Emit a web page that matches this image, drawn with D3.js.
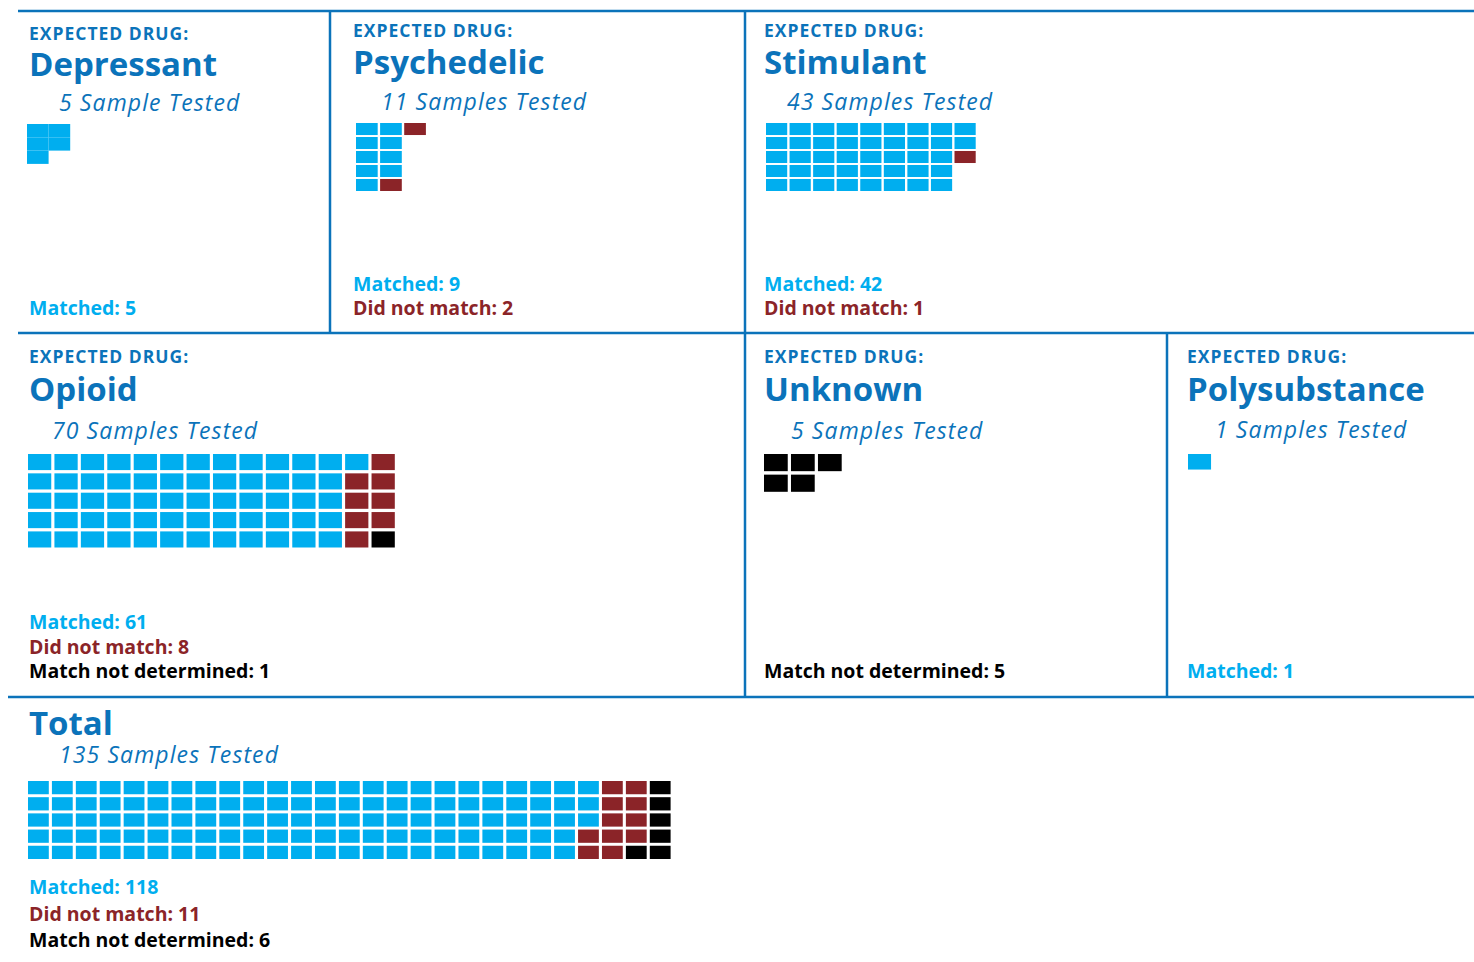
<!DOCTYPE html>
<html>
<head>
<meta charset="utf-8">
<script src="https://cdn.jsdelivr.net/npm/d3@7"></script>
<style>
    body { margin: 0; background: #fff; }
    text { font-family: "Open Sans", sans-serif; }
</style>
</head>
<body>
<div id="chart"></div>
<script>
// data
const drugs = ["Depressant", "Psychedelic", "Stimulant", "Opioid", "Unknown", "Polysubstance", "Total"];
const testedLabels = ["5 Sample Tested", "11 Samples Tested", "43 Samples Tested", "70 Samples Tested",
    "5 Samples Tested", "1 Samples Tested", "135 Samples Tested"];
const matched = [5, 9, 42, 61, 0, 1, 118];
const notMatched = [0, 2, 1, 8, 0, 0, 11];
const notDetermined = [0, 0, 0, 1, 5, 0, 6];

const statusNames = ["Matched", "Did not match", "Match not determined"];

const darkBlue = "#0b73ba";
const colors = ["#00aeef", "#8b2428", "#000000"];

// panel layout (positions only)
const layout = [
    {x: 29, head: 40, title: 76, sub: 111, subX: 59, cx: 27, cy: 124, rows: 3, px: 21.6, py: 13.3, pad: 0, legend: 315, step: 24},
    {x: 353, head: 37, title: 74, sub: 110, subX: 381, cx: 356, cy: 123, rows: 5, px: 23.3, py: 13.6, pad: 0.1, legend: 315, step: 24},
    {x: 764, head: 37, title: 74, sub: 110, subX: 787, cx: 766, cy: 123, rows: 5, px: 23.3, py: 13.6, pad: 0.1, legend: 315, step: 24},
    {x: 29, head: 363, title: 401, sub: 439, subX: 52, cx: 28, cy: 454, rows: 5, px: 26.2, py: 18.7, pad: 0.12, legend: 678, step: 24.5},
    {x: 764, head: 363, title: 401, sub: 439, subX: 791, cx: 764, cy: 454, rows: 2, px: 25.9, py: 18.9, pad: 0.12, legend: 678, step: 24.5},
    {x: 1187, head: 363, title: 401, sub: 438, subX: 1215, cx: 1188, cy: 454, rows: 1, px: 26.2, py: 18.7, pad: 0.12, legend: 678, step: 24.5},
    {x: 29, head: null, title: 735, sub: 763, subX: 59, cx: 28, cy: 781, rows: 5, px: 23.8, py: 15.6, pad: 0.13, legend: 947, step: 26.5}
];

// divider lines between panels
const dividers = [
    [18, 11, 1474, 11],
    [330, 11, 330, 333],
    [745, 11, 745, 697],
    [18, 333, 1474, 333],
    [1167, 333, 1167, 697],
    [8, 697, 1474, 697]
];

const width = 1474, height = 962;

const svg = d3.select("#chart").append("svg")
    .attr("width", width)
    .attr("height", height);

svg.selectAll(".divider")
    .data(dividers)
    .enter().append("line")
    .attr("class", "divider")
    .attr("x1", d => d[0]).attr("y1", d => d[1])
    .attr("x2", d => d[2]).attr("y2", d => d[3])
    .attr("stroke", darkBlue)
    .attr("stroke-width", 2.5);

drugs.forEach(function (drug, i) {
    let lay = layout[i];
    let g = svg.append("g").attr("class", "panel");

    if (lay.head !== null) {
        g.append("text")
            .attr("x", lay.x)
            .attr("y", lay.head)
            .attr("fill", darkBlue)
            .attr("font-size", 17.5)
            .attr("font-weight", 700)
            .attr("letter-spacing", 1)
            .text("EXPECTED DRUG:");
    }

    g.append("text")
        .attr("x", lay.x)
        .attr("y", lay.title)
        .attr("fill", darkBlue)
        .attr("font-size", 33)
        .attr("font-weight", 700)
        .text(drug);

    g.append("text")
        .attr("x", lay.subX)
        .attr("y", lay.sub)
        .attr("fill", darkBlue)
        .attr("font-size", 23)
        .attr("font-weight", 400)
        .attr("font-style", "italic")
        .attr("letter-spacing", 1.1)
        .text(testedLabels[i]);

    // one cell per sample, filled column by column
    let counts = [matched[i], notMatched[i], notDetermined[i]];
    let cells = [];
    counts.forEach(function (c, s) {
        d3.range(c).forEach(function () { cells.push(s); });
    });
    let ncols = Math.ceil(cells.length / lay.rows);

    let x = d3.scaleBand()
        .domain(d3.range(ncols))
        .range([lay.cx, lay.cx + ncols * lay.px])
        .paddingInner(lay.pad)
        .paddingOuter(0)
        .align(0);
    let y = d3.scaleBand()
        .domain(d3.range(lay.rows))
        .range([lay.cy, lay.cy + lay.rows * lay.py])
        .paddingInner(lay.pad * 1.4)
        .align(0);

    g.selectAll(".cell")
        .data(cells)
        .enter().append("rect")
        .attr("class", "cell")
        .attr("x", (d, k) => x(Math.floor(k / lay.rows)))
        .attr("y", (d, k) => y(k % lay.rows))
        .attr("width", x.bandwidth())
        .attr("height", y.bandwidth())
        .attr("fill", d => colors[d]);

    // legend lines, only for statuses that occur, stacked up from the bottom
    let lines = counts.map((c, s) => ({s: s, c: c})).filter(d => d.c > 0);
    g.selectAll(".legend")
        .data(lines)
        .enter().append("text")
        .attr("class", "legend")
        .attr("x", lay.x)
        .attr("y", (d, k) => lay.legend - (lines.length - 1 - k) * lay.step)
        .attr("fill", d => colors[d.s])
        .attr("font-size", 19.5)
        .attr("font-weight", 700)
        .text(d => statusNames[d.s] + ": " + d.c);
});
</script>
</body>
</html>
